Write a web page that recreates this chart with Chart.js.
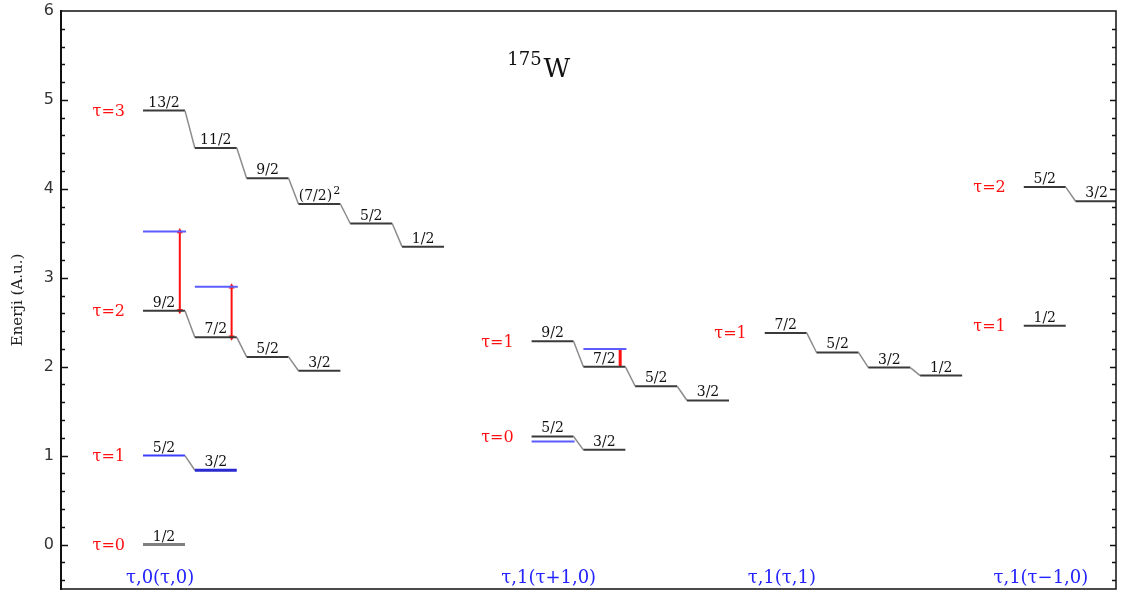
<!DOCTYPE html>
<html>
<head>
<meta charset="utf-8">
<script src="https://cdn.jsdelivr.net/npm/chart.js@4.4.1/dist/chart.umd.min.js"></script>
<style>
  html, body { margin: 0; padding: 0; background: #fff; }
  canvas { display: block; }
</style>
</head>
<body>
<canvas id="c" width="1121" height="594"></canvas>
<script>
// ---- data -------------------------------------------------------------
// band-head captions, one per rotational band
const bands = ['τ,0(τ,0)', 'τ,1(τ+1,0)', 'τ,1(τ,1)', 'τ,1(τ−1,0)'];
const yTickValues = [0, 1, 2, 3, 4, 5, 6];

// τ,0(τ,0)
const spinsA0 = ['1/2'];
const energyA0 = [0.00];
const spinsA1 = ['5/2', '3/2'];
const energyA1 = [1.00, 0.835];
const spinsA2 = ['9/2', '7/2', '5/2', '3/2'];
const energyA2 = [2.63, 2.33, 2.11, 1.955];
const expA2 = [3.52, 2.90, null, null];
const spinsA3 = ['13/2', '11/2', '9/2', '(7/2)^2', '5/2', '1/2'];
const energyA3 = [4.88, 4.46, 4.12, 3.83, 3.61, 3.35];

// τ,1(τ+1,0)
const spinsB0 = ['5/2', '3/2'];
const energyB0 = [1.215, 1.065];
const expB0 = [1.16, null];
const spinsB1 = ['9/2', '7/2', '5/2', '3/2'];
const energyB1 = [2.285, 2.00, 1.78, 1.62];
const expB1 = [null, 2.20, null, null];

// τ,1(τ,1)
const spinsC1 = ['7/2', '5/2', '3/2', '1/2'];
const energyC1 = [2.38, 2.16, 1.99, 1.90];

// τ,1(τ−1,0)
const spinsD1 = ['1/2'];
const energyD1 = [2.46];
const spinsD2 = ['5/2', '3/2'];
const energyD2 = [4.02, 3.86];

// ---- layout / style ---------------------------------------------------
const BAND_X = [0, 7.5, 12, 17];   // first level slot of each band
const LEVEL_LEN = 0.81;            // horizontal length of a level (in slots)
const X_MIN = -1.583, X_MAX = 18.78;
const LEVEL_COLOR = '#3a3a3a';
const LINK_COLOR = '#8c8c8c';
const EXP_COLOR = '#5c5cff';
const RED = '#ff1010';
const SERIF = '"DejaVu Serif", "Liberation Serif", serif';

const series = [
  { band: 0, tau: 0, spins: spinsA0, energy: energyA0, color: ['#7f7f7f'], width: [3] },
  { band: 0, tau: 1, spins: spinsA1, energy: energyA1, color: ['#3d3dff', '#2a2ad0'], width: [2, 3] },
  { band: 0, tau: 2, spins: spinsA2, energy: energyA2, exp: expA2, link: 'arrow' },
  { band: 0, tau: 3, spins: spinsA3, energy: energyA3 },
  { band: 1, tau: 0, spins: spinsB0, energy: energyB0, exp: expB0 },
  { band: 1, tau: 1, spins: spinsB1, energy: energyB1, exp: expB1, link: 'bar' },
  { band: 2, tau: 1, spins: spinsC1, energy: energyC1 },
  { band: 3, tau: 1, spins: spinsD1, energy: energyD1 },
  { band: 3, tau: 2, spins: spinsD2, energy: energyD2 }
];

// ---- datasets ---------------------------------------------------------
const datasets = [];
series.forEach(s => {
  const pts = [];
  s.energy.forEach((e, i) => {
    const x0 = BAND_X[s.band] + i;
    pts.push({ x: x0, y: e }, { x: x0 + LEVEL_LEN, y: e });
  });
  const colorOf = i => (s.color && s.color[i]) || LEVEL_COLOR;
  const widthOf = i => (s.width && s.width[i]) || 2;
  datasets.push({
    data: pts,
    showLine: true,
    pointRadius: 0,
    borderColor: LEVEL_COLOR,
    borderWidth: 2,
    segment: {
      borderColor: c => c.p0DataIndex % 2 === 0 ? colorOf(c.p0DataIndex / 2) : LINK_COLOR,
      borderWidth: c => c.p0DataIndex % 2 === 0 ? widthOf(c.p0DataIndex / 2) : 1.5
    }
  });
});

// measured (blue) levels
series.forEach(s => {
  if (!s.exp) return;
  s.exp.forEach((v, i) => {
    if (v === null) return;
    const x0 = BAND_X[s.band] + i;
    datasets.push({
      data: [{ x: x0, y: v }, { x: x0 + LEVEL_LEN + 0.02, y: v }],
      showLine: true, pointRadius: 0,
      borderColor: EXP_COLOR, borderWidth: 2
    });
  });
});

// red links between calculated and measured levels
series.forEach(s => {
  if (!s.exp || !s.link) return;
  s.exp.forEach((v, i) => {
    if (v === null) return;
    const xa = BAND_X[s.band] + i + 0.71;
    const e = s.energy[i];
    const arrow = s.link === 'arrow';
    datasets.push({
      data: [{ x: xa, y: e }, { x: xa, y: v }],
      showLine: true,
      borderColor: RED,
      borderWidth: arrow ? 2 : 3,
      pointRadius: arrow ? 3.5 : 0,
      pointStyle: 'triangle',
      pointRotation: v > e ? [180, 0] : [0, 180],
      pointBackgroundColor: RED,
      pointBorderColor: RED,
      pointBorderWidth: 0
    });
  });
});

// ---- annotations: frame, inner ticks, labels --------------------------
const decorations = {
  id: 'decorations',
  afterDatasetsDraw(chart) {
    const { ctx, chartArea: a, scales: { x, y } } = chart;
    ctx.save();

    // frame
    ctx.strokeStyle = '#111';
    ctx.lineWidth = 1.5;
    ctx.beginPath();
    ctx.moveTo(a.left, a.top); ctx.lineTo(a.right, a.top);
    ctx.lineTo(a.right, a.bottom); ctx.lineTo(a.left, a.bottom);
    ctx.stroke();
    ctx.lineWidth = 2;
    ctx.beginPath();
    ctx.moveTo(a.left, a.top - 1); ctx.lineTo(a.left, a.bottom + 1);
    ctx.stroke();

    // inward ticks on both vertical axes
    ctx.lineWidth = 1.5;
    for (let t = -4; t <= 58; t += 2) {
      const py = Math.round(y.getPixelForValue(t / 10)) + 0.5;
      const major = t % 10 === 0;
      ctx.beginPath();
      ctx.moveTo(a.left, py); ctx.lineTo(a.left + (major ? 7 : 4), py);
      ctx.moveTo(a.right, py); ctx.lineTo(a.right - (major ? 6 : 4), py);
      ctx.stroke();
    }

    // spin labels over each level
    ctx.fillStyle = '#111';
    ctx.textBaseline = 'alphabetic';
    series.forEach(s => {
      s.spins.forEach((lab, i) => {
        const cx = x.getPixelForValue(BAND_X[s.band] + i + LEVEL_LEN / 2);
        const by = y.getPixelForValue(s.energy[i]) - 4;
        const [main, sup] = lab.split('^');
        ctx.font = '14px ' + SERIF;
        const wMain = ctx.measureText(main).width;
        let wSup = 0;
        if (sup) { ctx.font = '11px ' + SERIF; wSup = ctx.measureText(sup).width + 1; }
        const x0 = cx - (wMain + wSup) / 2;
        ctx.font = '14px ' + SERIF;
        ctx.textAlign = 'left';
        ctx.fillText(main, x0, by);
        if (sup) {
          ctx.font = '11px ' + SERIF;
          ctx.fillText(sup, x0 + wMain + 1, by - 6);
        }
      });
    });

    // τ labels beside the first level of each group
    ctx.fillStyle = RED;
    ctx.font = '16px ' + SERIF;
    ctx.textAlign = 'center';
    ctx.textBaseline = 'middle';
    series.forEach(s => {
      ctx.fillText('τ=' + s.tau,
        x.getPixelForValue(BAND_X[s.band] - 0.66),
        y.getPixelForValue(s.energy[0]) + 1);
    });

    // band captions along the bottom
    ctx.fillStyle = '#2323ff';
    ctx.font = '18px ' + SERIF;
    ctx.textBaseline = 'alphabetic';
    bands.forEach((b, i) => {
      ctx.fillText(b, x.getPixelForValue(BAND_X[i] + 0.33), a.bottom - 6);
    });

    // nucleus name
    const tx = x.getPixelForValue(7.03);
    const ty = y.getPixelForValue(5.26);
    ctx.fillStyle = '#111';
    ctx.textAlign = 'left';
    ctx.font = '18px ' + SERIF;
    ctx.fillText('175', tx, ty - 12);
    const w175 = ctx.measureText('175').width;
    ctx.font = '26px ' + SERIF;
    ctx.fillText('W', tx + w175 + 2, ty);

    ctx.restore();
  }
};

new Chart(document.getElementById('c'), {
  type: 'scatter',
  data: { datasets },
  options: {
    responsive: false,
    animation: false,
    devicePixelRatio: 1,
    layout: { padding: { left: 0, top: 11, right: 5, bottom: 5 } },
    plugins: { legend: { display: false }, tooltip: { enabled: false } },
    scales: {
      x: { type: 'linear', display: false, min: X_MIN, max: X_MAX },
      y: {
        type: 'linear',
        min: -0.5, max: 6,
        grid: { display: false, drawTicks: false },
        border: { display: false },
        ticks: {
          stepSize: 1,
          padding: 7,
          color: '#333',
          font: { family: '"DejaVu Sans", sans-serif', size: 16 },
          callback: v => yTickValues.includes(v) ? String(v) : ''
        },
        title: {
          display: true,
          text: 'Enerji (A.u.)',
          color: '#222',
          font: { family: SERIF, size: 15 },
          padding: { top: 9, bottom: 0 }
        },
        afterFit: s => {
          s.width = 61;
          s.paddingTop = 0;
          s.paddingBottom = 0;
        }
      }
    }
  },
  plugins: [decorations]
});
</script>
</body>
</html>
